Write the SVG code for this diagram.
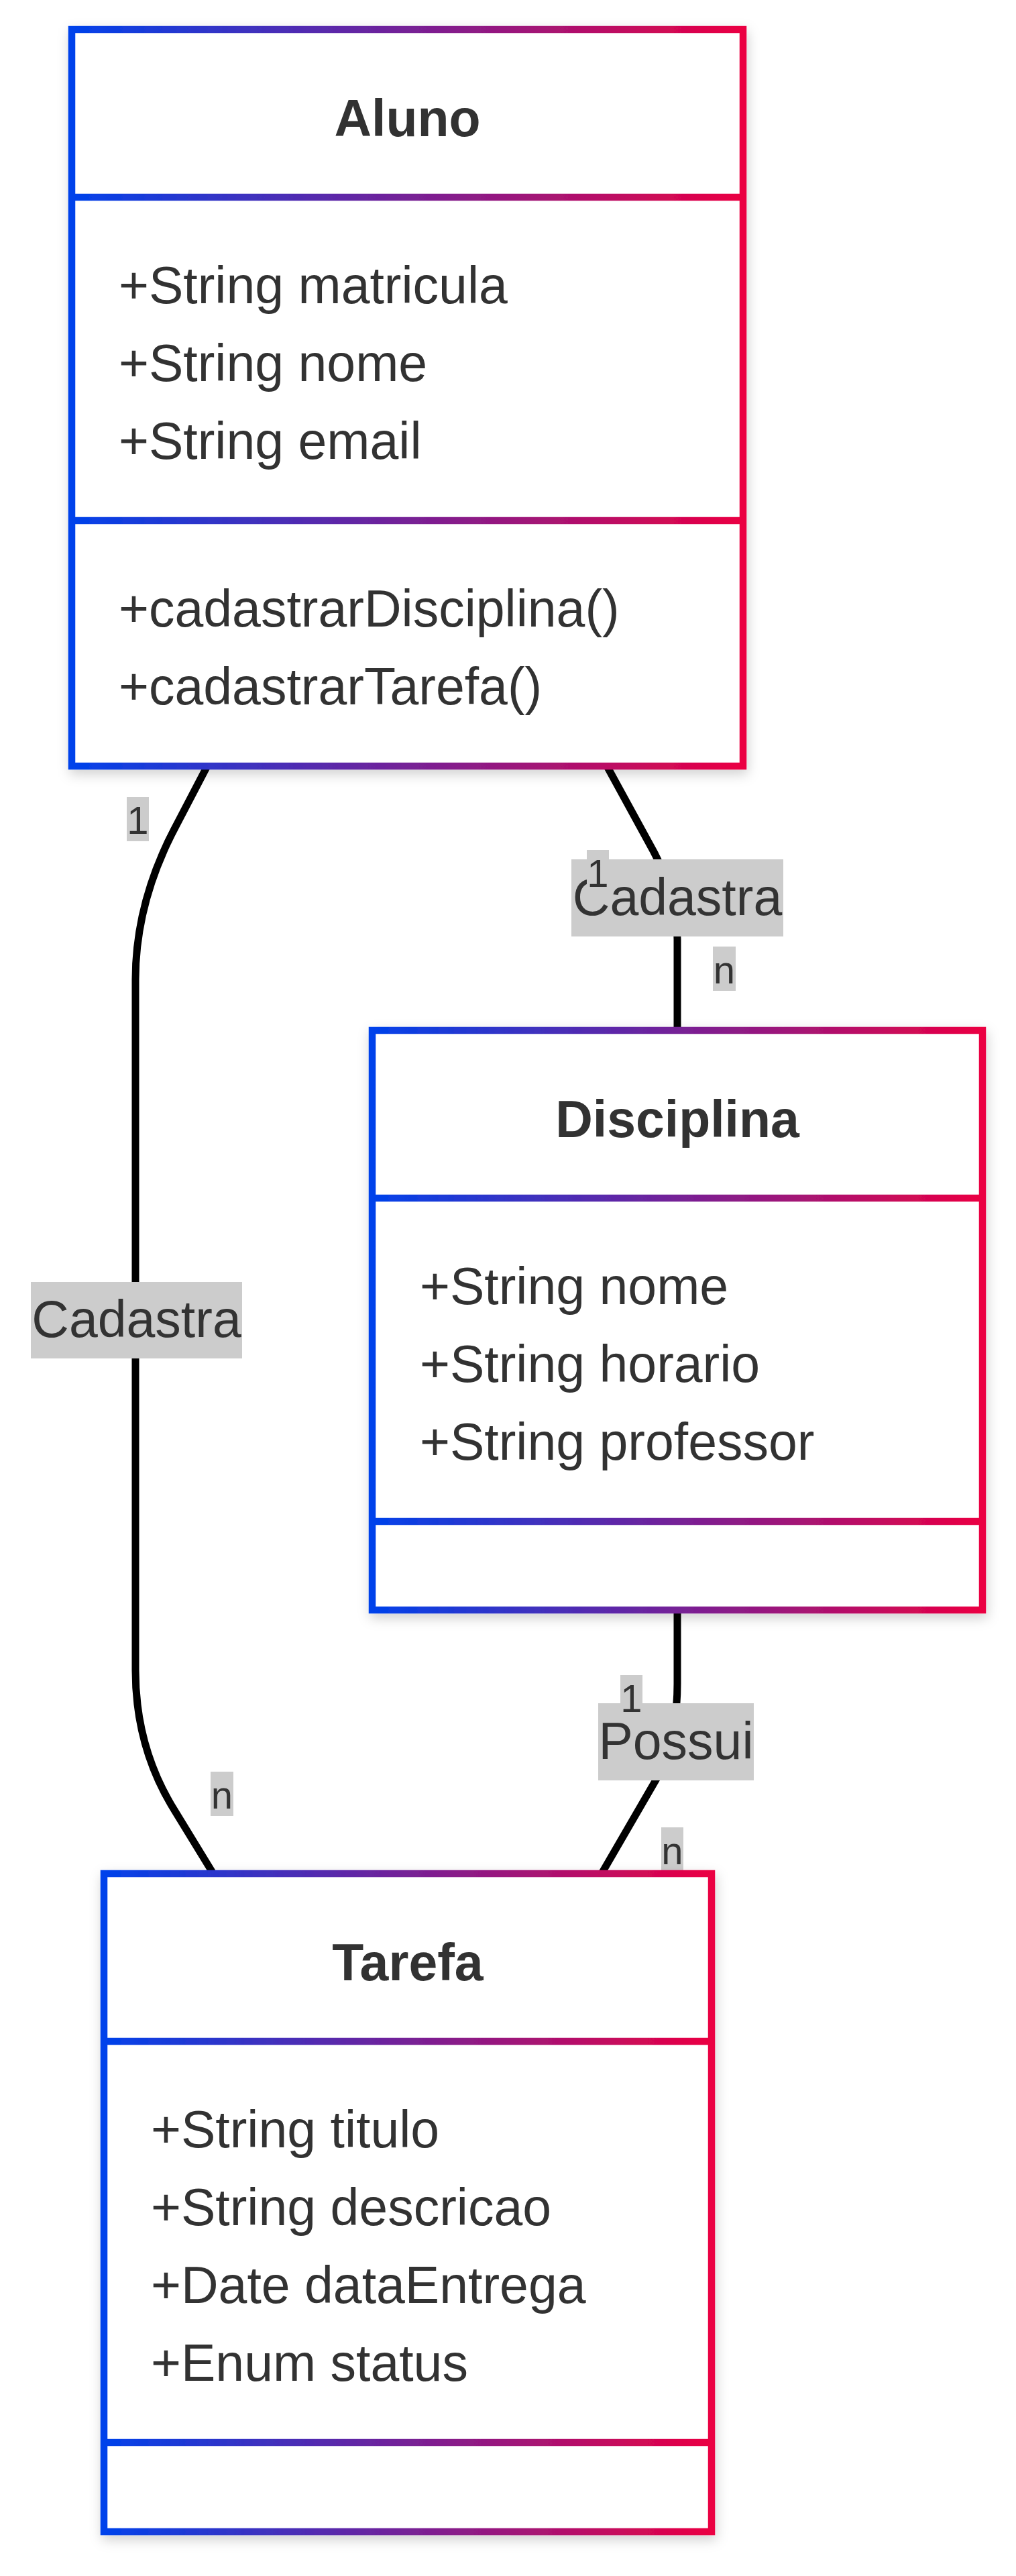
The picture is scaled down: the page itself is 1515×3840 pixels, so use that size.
<svg xmlns="http://www.w3.org/2000/svg" width="1515" height="3840" viewBox="0 0 1515 3840">
<style>
.bx{fill:#ffffff;stroke:url(#grad);stroke-width:10.5}
.dv{fill:none;stroke:url(#grad);stroke-width:10.5}
.ttl{font-family:"Liberation Sans",Arial,sans-serif;font-size:77px;font-weight:bold;fill:#333333;text-anchor:middle}
.mem{font-family:"Liberation Sans",Arial,sans-serif;font-size:77px;fill:#333333}
.edge{fill:none;stroke:#000000;stroke-width:11}
.lbg{fill:#cccccc}
.lbl{font-family:"Liberation Sans",Arial,sans-serif;font-size:77px;fill:#333333;text-anchor:middle}
.card{font-family:"Liberation Sans",Arial,sans-serif;font-size:58px;fill:#333333;text-anchor:middle}
</style>
<defs>
<linearGradient id="grad" x1="0" y1="0" x2="1" y2="0" gradientUnits="objectBoundingBox">
<stop offset="0" stop-color="#0042eb"/>
<stop offset="1" stop-color="#eb0042"/>
</linearGradient>
<filter id="sh" x="-10%" y="-10%" width="120%" height="120%">
<feDropShadow dx="2" dy="7" stdDeviation="9" flood-color="#000000" flood-opacity="0.18"/>
</filter>
</defs>
<rect width="1515" height="3840" fill="#ffffff"/>
<g id="connectors">
<path class="edge" d="M 309 1142 L 262 1232 Q 202 1345 202 1460 L 202 2490 Q 202 2600 255 2690 L 318 2793"/>
<path class="edge" d="M 905 1142 L 975 1270 Q 1010 1335 1010 1400 L 1010 1536"/>
<path class="edge" d="M 1010 2400 L 1010 2510 Q 1010 2590 980 2650 L 897 2793"/>
<rect class="lbg" x="46" y="1911" width="315" height="114"/>
<text class="lbl" x="203.5" y="1993">Cadastra</text>
<rect class="lbg" x="852" y="1281" width="316" height="115"/>
<text class="lbl" x="1010" y="1364">Cadastra</text>
<rect class="lbg" x="892" y="2539" width="232" height="115"/>
<text class="lbl" x="1008" y="2622">Possui</text>
<rect class="lbg" x="189" y="1188" width="33" height="66"/>
<text class="card" x="205.5" y="1243">1</text>
<rect class="lbg" x="314" y="2641" width="34" height="66"/>
<text class="card" x="331" y="2696">n</text>
<rect class="lbg" x="875" y="1267" width="33" height="66"/>
<text class="card" x="891.5" y="1322">1</text>
<rect class="lbg" x="1063" y="1411" width="34" height="66"/>
<text class="card" x="1080" y="1466">n</text>
<rect class="lbg" x="925" y="2497" width="33" height="66"/>
<text class="card" x="941.5" y="2552">1</text>
<rect class="lbg" x="986" y="2724" width="33" height="66"/>
<text class="card" x="1002.5" y="2779">n</text>
</g>
<g id="Aluno" filter="url(#sh)">
<rect class="bx" x="107" y="44" width="1001" height="1098"/>
<path class="dv" d="M 107 294 L 1108 294 M 107 776 L 1108 776 M 107 44 L 107 44.01"/>
<text class="ttl" x="607.5" y="203">Aluno</text>
<text class="mem" x="177" y="452">+String matricula</text>
<text class="mem" x="177" y="568">+String nome</text>
<text class="mem" x="177" y="684">+String email</text>
<text class="mem" x="177" y="934">+cadastrarDisciplina()</text>
<text class="mem" x="177" y="1050">+cadastrarTarefa()</text>
</g>
<g id="Disciplina" filter="url(#sh)">
<rect class="bx" x="555" y="1536" width="910" height="864"/>
<path class="dv" d="M 555 1786 L 1465 1786 M 555 2268 L 1465 2268 M 555 1536 L 555 1536.01"/>
<text class="ttl" x="1010" y="1695">Disciplina</text>
<text class="mem" x="626" y="1944">+String nome</text>
<text class="mem" x="626" y="2060">+String horario</text>
<text class="mem" x="626" y="2176">+String professor</text>
</g>
<g id="Tarefa" filter="url(#sh)">
<rect class="bx" x="155" y="2793" width="906" height="981"/>
<path class="dv" d="M 155 3043 L 1061 3043 M 155 3641 L 1061 3641 M 155 2793 L 155 2793.01"/>
<text class="ttl" x="608" y="2952">Tarefa</text>
<text class="mem" x="225" y="3201">+String titulo</text>
<text class="mem" x="225" y="3317">+String descricao</text>
<text class="mem" x="225" y="3433">+Date dataEntrega</text>
<text class="mem" x="225" y="3549">+Enum status</text>
</g>
</svg>
